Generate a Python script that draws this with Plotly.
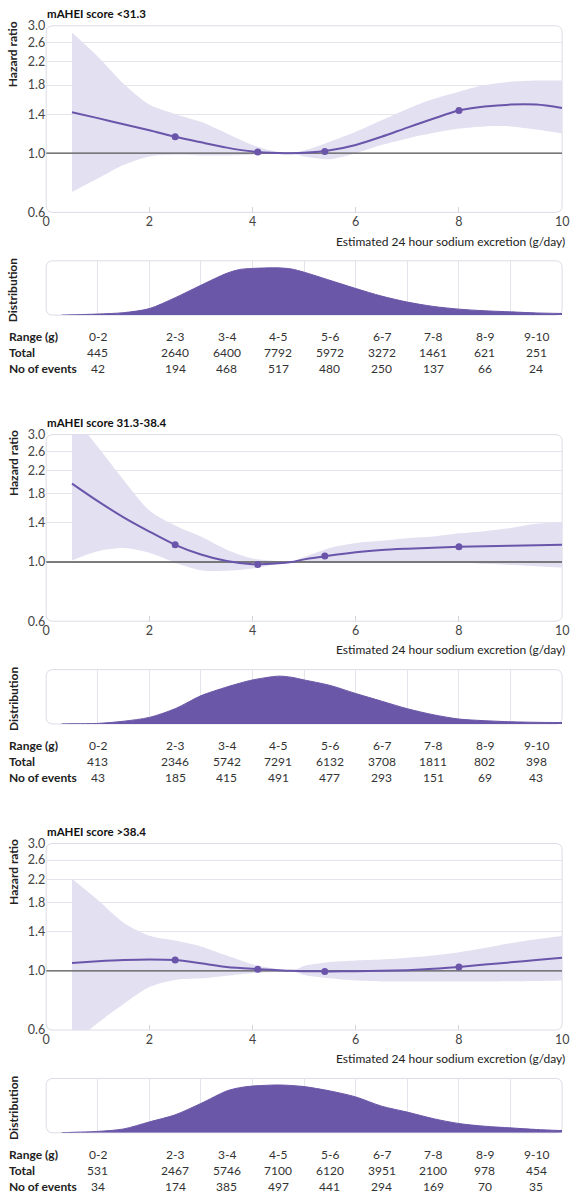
import plotly.graph_objects as go

W, H = 576, 1200
DY = 414  # vertical offset between panels (px)

titles = ["mAHEI score <31.3", "mAHEI score 31.3-38.4", "mAHEI score >38.4"]

# Hazard ratio curves
hr_x = [0.5, 1.0, 1.5, 2.0, 2.5, 3.0, 3.5, 4.0, 4.5, 4.75, 5.0, 5.5, 6.0, 6.5, 7.0, 7.5, 8.0, 8.5, 9.0, 9.5, 10.0]
hr1 = [1.424, 1.353, 1.283, 1.219, 1.152, 1.098, 1.049, 1.014, 1.002, 1.0, 1.003, 1.025, 1.073, 1.152, 1.247, 1.346, 1.444, 1.494, 1.52, 1.52, 1.477]
up1 = [2.83, 2.30, 1.82, 1.52, 1.40, 1.31, 1.185, 1.073, 1.008, 1.0, 1.023, 1.104, 1.202, 1.327, 1.465, 1.594, 1.70, 1.80, 1.85, 1.87, 1.87]
lo1 = [0.716, 0.804, 0.903, 0.972, 0.986, 0.98, 0.98, 0.986, 0.997, 1.0, 0.972, 0.95, 1.0, 1.073, 1.136, 1.19, 1.236, 1.26, 1.26, 1.226, 1.185]

hr2 = [1.966, 1.69, 1.47, 1.30, 1.16, 1.067, 1.008, 0.981, 0.989, 1.0, 1.023, 1.058, 1.088, 1.11, 1.122, 1.131, 1.141, 1.146, 1.15, 1.155, 1.16]
up2 = [3.56, 2.70, 2.03, 1.56, 1.37, 1.245, 1.112, 1.031, 1.008, 1.0, 1.043, 1.128, 1.177, 1.2, 1.227, 1.245, 1.28, 1.305, 1.342, 1.39, 1.41]
lo2 = [1.014, 1.097, 1.128, 1.082, 0.994, 0.932, 0.927, 0.945, 0.986, 1.0, 0.994, 0.994, 1.0, 0.994, 0.994, 0.994, 0.994, 0.985, 0.975, 0.965, 0.953]

hr3 = [1.07, 1.085, 1.097, 1.103, 1.097, 1.067, 1.034, 1.017, 1.006, 1.0, 0.997, 0.995, 0.997, 1.0, 1.006, 1.017, 1.034, 1.055, 1.076, 1.097, 1.119]
up3 = [2.21, 1.84, 1.515, 1.354, 1.298, 1.234, 1.141, 1.058, 1.014, 1.0, 1.043, 1.079, 1.094, 1.103, 1.119, 1.141, 1.173, 1.217, 1.269, 1.313, 1.35]
lo3 = [0.532, 0.638, 0.751, 0.869, 0.924, 0.937, 0.959, 0.98, 0.992, 1.0, 0.964, 0.937, 0.919, 0.912, 0.912, 0.912, 0.912, 0.912, 0.914, 0.916, 0.919]

knot_x = [2.5, 4.1, 5.4, 8.0]
knot1 = [1.152, 1.011, 1.014, 1.444]
knot2 = [1.16, 0.978, 1.052, 1.141]
knot3 = [1.097, 1.014, 0.994, 1.034]

# Distribution (relative density)
dist_x = [0.3, 0.5, 1, 1.5, 2, 2.5, 3, 3.5, 3.75, 4, 4.5, 4.75, 5, 5.5, 6, 6.5, 7, 7.5, 8, 8.5, 9, 9.5, 10]
dist1 = [0, 0.005, 0.02, 0.045, 0.12, 0.32, 0.55, 0.77, 0.84, 0.86, 0.87, 0.85, 0.79, 0.64, 0.49, 0.35, 0.24, 0.16, 0.11, 0.08, 0.06, 0.04, 0.03]
dist2 = [0, 0.003, 0.01, 0.05, 0.12, 0.28, 0.52, 0.68, 0.75, 0.81, 0.88, 0.86, 0.81, 0.71, 0.56, 0.42, 0.28, 0.17, 0.09, 0.06, 0.04, 0.03, 0.025]
dist3 = [0, 0.008, 0.025, 0.07, 0.2, 0.33, 0.54, 0.77, 0.83, 0.86, 0.88, 0.87, 0.85, 0.77, 0.66, 0.49, 0.38, 0.26, 0.17, 0.12, 0.09, 0.06, 0.04]

# Table
range_labels = ["0-2", "2-3", "3-4", "4-5", "5-6", "6-7", "7-8", "8-9", "9-10"]
range_pos = [1, 2.5, 3.5, 4.5, 5.5, 6.5, 7.5, 8.5, 9.5]
total1 = [445, 2640, 6400, 7792, 5972, 3272, 1461, 621, 251]
events1 = [42, 194, 468, 517, 480, 250, 137, 66, 24]
total2 = [413, 2346, 5742, 7291, 6132, 3708, 1811, 802, 398]
events2 = [43, 185, 415, 491, 477, 293, 151, 69, 43]
total3 = [531, 2467, 5746, 7100, 6120, 3951, 2100, 978, 454]
events3 = [34, 174, 385, 497, 441, 294, 169, 70, 35]

y_ticks = [0.6, 1.0, 1.4, 1.8, 2.2, 2.6, 3.0]
y_ticktext = ["0.6", "1.0", "1.4", "1.8", "2.2", "2.6", "3.0"]
x_ticks = [0, 2, 4, 6, 8, 10]

panels = [
    (hr1, up1, lo1, knot1, dist1, total1, events1),
    (hr2, up2, lo2, knot2, dist2, total2, events2),
    (hr3, up3, lo3, knot3, dist3, total3, events3),
]

PURPLE = "#6a55aa"
DIST = "#6b57a8"
BAND = "#e3e0f1"
GRID = "#e4e4ec"
BORDER = "#dcdce6"
FONT = "Lato"

X0, X1 = 43, 569

def px(x):
    return x / W

def py(y):
    return 1 - y / H

def rounded(x0, y0, x1, y1, r=7):
    pts = [
        ("M", [(x0 + r, y0)]), ("L", [(x1 - r, y0)]), ("Q", [(x1, y0), (x1, y0 + r)]),
        ("L", [(x1, y1 - r)]), ("Q", [(x1, y1), (x1 - r, y1)]), ("L", [(x0 + r, y1)]),
        ("Q", [(x0, y1), (x0, y1 - r)]), ("L", [(x0, y0 + r)]), ("Q", [(x0, y0), (x0 + r, y0)]),
    ]
    s = ""
    for cmd, ps in pts:
        s += cmd + " " + " ".join(f"{px(a):.5f},{py(b):.5f}" for a, b in ps) + " "
    return s + "Z"

fig = go.Figure()
layout = dict(
    width=W, height=H, margin=dict(l=0, r=0, t=0, b=0),
    paper_bgcolor="white", plot_bgcolor="rgba(0,0,0,0)",
    showlegend=False, font=dict(family=FONT, size=12, color="#333"),
)
shapes = []
annotations = []

for k, (hr, up, lo, knot, dist, total, events) in enumerate(panels):
    off = k * DY
    ih = 2 * k + 1
    idd = 2 * k + 2
    xa_h = "x" if ih == 1 else f"x{ih}"
    ya_h = "y" if ih == 1 else f"y{ih}"
    xa_d, ya_d = f"x{idd}", f"y{idd}"
    kx_h = "xaxis" if ih == 1 else f"xaxis{ih}"
    ky_h = "yaxis" if ih == 1 else f"yaxis{ih}"

    top_h, bot_h = 18 + off, 207 + off
    top_d, bot_d = 256 + off, 311 + off

    layout[kx_h] = dict(domain=[px(X0), px(X1)], range=[0, 10], anchor=ya_h,
                        tickvals=x_ticks, showgrid=False, zeroline=False, showline=False,
                        ticks="inside", ticklen=5, tickcolor="#d3d3dd",
                        ticklabeloverflow="allow",
                        tickfont=dict(size=12.5, color="#444"))
    layout[ky_h] = dict(domain=[py(bot_h), py(top_h)], type="log", anchor=xa_h,
                        range=[-0.22185, 0.47712], tickvals=y_ticks, ticktext=y_ticktext,
                        showgrid=True, gridcolor=GRID, gridwidth=1, zeroline=False,
                        showline=False, ticks="", tickfont=dict(size=12.5, color="#444"))
    layout[f"xaxis{idd}"] = dict(domain=[px(X0), px(X1)], range=[0, 10], anchor=ya_d,
                                 tickvals=list(range(1, 10)), showticklabels=False,
                                 showgrid=True, gridcolor=GRID, zeroline=False, ticks="")
    layout[f"yaxis{idd}"] = dict(domain=[py(bot_d), py(top_d)], range=[0, 1], anchor=xa_d,
                                 showticklabels=False, showgrid=False, zeroline=False)

    fig.add_trace(go.Scatter(x=hr_x, y=up, mode="lines", line=dict(width=0, shape="spline", smoothing=0.8),
                             xaxis=xa_h, yaxis=ya_h, hoverinfo="skip"))
    fig.add_trace(go.Scatter(x=hr_x, y=lo, mode="lines", line=dict(width=0, shape="spline", smoothing=0.8),
                             fill="tonexty", fillcolor=BAND, xaxis=xa_h, yaxis=ya_h, hoverinfo="skip"))
    fig.add_trace(go.Scatter(x=[0, 10], y=[1, 1], mode="lines", line=dict(color="#555", width=1.3),
                             xaxis=xa_h, yaxis=ya_h, hoverinfo="skip"))
    fig.add_trace(go.Scatter(x=hr_x, y=hr, mode="lines", line=dict(color=PURPLE, width=2, shape="spline", smoothing=0.8),
                             xaxis=xa_h, yaxis=ya_h))
    fig.add_trace(go.Scatter(x=knot_x, y=knot, mode="markers", marker=dict(color=PURPLE, size=7),
                             xaxis=xa_h, yaxis=ya_h))
    fig.add_trace(go.Scatter(x=dist_x, y=dist, mode="lines", line=dict(color=DIST, width=1, shape="spline", smoothing=0.8),
                             fill="tozeroy", fillcolor=DIST, xaxis=xa_d, yaxis=ya_d, hoverinfo="skip"))

    shapes.append(dict(type="path", path=rounded(X0, top_h, X1, bot_h), xref="paper", yref="paper",
                       line=dict(color=BORDER, width=1), layer="below"))
    shapes.append(dict(type="path", path=rounded(X0, top_d, X1, bot_d), xref="paper", yref="paper",
                       line=dict(color=BORDER, width=1), layer="below"))

    annotations.append(dict(text=f"<b>{titles[k]}</b>", x=px(42), y=py(6 + off), xref="paper", yref="paper",
                            xanchor="left", yanchor="middle", showarrow=False, font=dict(size=11.5, color="#111")))
    annotations.append(dict(text="<b>Hazard ratio</b>", x=px(9), y=py(47 + off), xref="paper", yref="paper",
                            textangle=-90, xanchor="center", yanchor="middle", showarrow=False,
                            font=dict(size=12, color="#222")))
    annotations.append(dict(text="<b>Distribution</b>", x=px(9), y=py(285 + off), xref="paper", yref="paper",
                            textangle=-90, xanchor="center", yanchor="middle", showarrow=False,
                            font=dict(size=12, color="#222")))
    annotations.append(dict(text="Estimated 24 hour sodium excretion (g/day)", x=px(574), y=py(236 + off),
                            xref="paper", yref="paper", xanchor="right", yanchor="middle", showarrow=False,
                            font=dict(size=12, color="#222")))
    rows = [("Range (g)", range_labels), ("Total", total), ("No of events", events)]
    for r, (lab, vals) in enumerate(rows):
        yy = py(333 + 16 * r + off)
        annotations.append(dict(text=f"<b>{lab}</b>", x=px(3), y=yy, xref="paper", yref="paper",
                                xanchor="left", yanchor="middle", showarrow=False,
                                font=dict(size=12, color="#222")))
        for xp, v in zip(range_pos, vals):
            annotations.append(dict(text=str(v), x=xp, y=yy, xref=xa_d, yref="paper",
                                    xanchor="center", yanchor="middle", showarrow=False,
                                    font=dict(size=12, color="#333")))

layout["shapes"] = shapes
layout["annotations"] = annotations
fig.update_layout(**layout)
fig.write_html("out.html", config={"displayModeBar": False},
               post_script="document.body.style.margin='0';")
